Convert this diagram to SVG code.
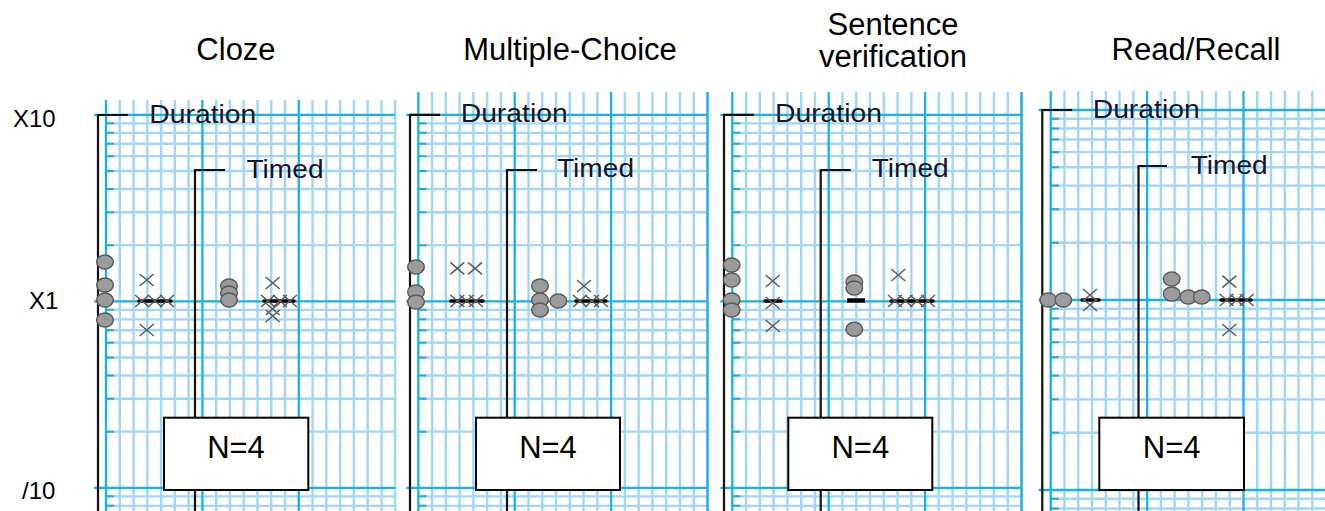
<svg xmlns="http://www.w3.org/2000/svg" width="1325" height="511" viewBox="0 0 1325 511">
<style>
.title{font-family:"Liberation Sans",Arial,sans-serif;font-size:31px;fill:#000;text-anchor:middle}
.row{font-family:"Liberation Sans",Arial,sans-serif;font-size:24px;fill:#000}
.lab{font-family:"Liberation Sans",Arial,sans-serif;font-size:25px;fill:#14142a}
.n{font-family:"Liberation Sans",Arial,sans-serif;font-size:31px;fill:#000;text-anchor:middle}
.minor{stroke:#a2d6f7;stroke-width:2.4;fill:none}
.major{stroke:#16b3e6;stroke-width:2.3;fill:none}
.tick{stroke:#1fabe2;stroke-width:2;fill:none}
.br{stroke:#111;stroke-width:2.2;fill:none}
.box{fill:#fff;stroke:#000;stroke-width:2}
.bar{stroke:#000;stroke-width:3.5;stroke-linecap:round}
</style>
<defs>
<g id="grid">
<path class="minor" d="M13.77,-209.3V210M27.54,-209.3V210M41.31,-209.3V210M55.09,-209.3V210M68.86,-209.3V210M82.63,-209.3V210M110.17,-209.3V210M123.94,-209.3V210M137.71,-209.3V210M151.49,-209.3V210M165.26,-209.3V210M179.03,-209.3V210M206.57,-209.3V210M220.34,-209.3V210M234.11,-209.3V210M247.89,-209.3V210M261.66,-209.3V210M275.43,-209.3V210M289.2,-209.3V210"/>
<path class="minor" d="M0,-177.97H289.2M0,-168.43H289.2M0,-157.61H289.2M0,-145.13H289.2M0,-130.36H289.2M0,-112.28H289.2M0,-88.98H289.2M0,-56.14H289.2M0,8.53H289.2M0,18.07H289.2M0,28.89H289.2M0,41.37H289.2M0,56.14H289.2M0,74.22H289.2M0,97.52H289.2M0,130.36H289.2M0,195.03H289.2M0,204.57H289.2"/>
<path class="tick" d="M0,-177.97H8M0,-168.43H8M0,-157.61H8M0,-145.13H8M0,-130.36H8M0,-112.28H8M0,-88.98H8M0,-56.14H8M0,8.53H8M0,18.07H8M0,28.89H8M0,41.37H8M0,56.14H8M0,74.22H8M0,97.52H8M0,130.36H8M0,195.03H8M0,204.57H8"/>
<path class="major" d="M0,-209.3V210M96.4,-209.3V210M192.8,-209.3V210M-12,-186.5H289.2M-12,0H289.2M-12,186.5H289.2"/>
</g>
<ellipse id="o" cx="0" cy="0" rx="8.3" ry="7" fill="#9b9b9b" stroke="#5a5a5a" stroke-width="1.5"/>
<path id="x" d="M-7,-6L7,6M-7,6L7,-6" stroke="#5e5e5e" stroke-width="1.6" fill="none"/>
</defs>
<rect width="1325" height="511" fill="#fff"/>

<g id="titles">
<text class="title" x="236" y="60">Cloze</text>
<text class="title" x="570" y="60">Multiple-Choice</text>
<text class="title" x="893" y="35">Sentence</text>
<text class="title" x="893" y="67">verification</text>
<text class="title" x="1196" y="60">Read/Recall</text>
</g>
<g id="rowlabels">
<text class="row" x="13" y="127">X10</text>
<text class="row" x="29" y="309">X1</text>
<text class="row" x="22" y="499">/10</text>
</g>

<g id="grids">
<use href="#grid" transform="translate(106,301.3)"/>
<rect x="90" y="86" width="315" height="14" fill="#fff"/>
<use href="#grid" transform="translate(418.3,301.3)"/>
<path class="major" d="M707.5,92V511"/>
<use href="#grid" transform="translate(732.3,301.3)"/>
<path class="major" d="M1021.5,92V511"/>
<use href="#grid" transform="translate(1050.7,300) scale(1,1.0188)"/>
<rect x="1030" y="80" width="295" height="11" fill="#fff"/>
</g>

<g id="connectors">
<path class="br" d="M128,115H98V511M225,170H195V511"/>
<path class="br" d="M440,114.8H410V511M537,170H507V511"/>
<path class="br" d="M754,114.8H724V511M850.7,170H820.7V511"/>
<path class="br" d="M1072,110H1042.3V511M1167,166H1138.5V511"/>
</g>

<g id="panel-cloze">
<text class="lab" x="149.3" y="123" textLength="107" lengthAdjust="spacingAndGlyphs">Duration</text>
<text class="lab" x="246.5" y="178" textLength="77" lengthAdjust="spacingAndGlyphs">Timed</text>
<use href="#o" x="105" y="262"/><use href="#o" x="105" y="285"/><use href="#o" x="105" y="300"/><use href="#o" x="105" y="320"/>
<use href="#x" x="146.7" y="280"/><use href="#x" x="146.7" y="330"/>
<line class="bar" x1="139" y1="301" x2="171" y2="301"/>
<use href="#x" x="142" y="301"/><use href="#x" x="155" y="301"/><use href="#x" x="167" y="301"/>
<use href="#o" x="229" y="286"/><use href="#o" x="229" y="293"/><use href="#o" x="229" y="300"/>
<use href="#x" x="272.7" y="283"/><use href="#x" x="272.7" y="316"/><use href="#x" x="272.7" y="309"/>
<line class="bar" x1="264" y1="301" x2="294" y2="301"/>
<use href="#x" x="268" y="301"/><use href="#x" x="280" y="301"/><use href="#x" x="290" y="301"/>
<rect class="box" x="164" y="417.7" width="144.3" height="72.3"/>
<text class="n" x="236" y="458">N=4</text>
</g>

<g id="panel-mc">
<text class="lab" x="460.7" y="122.3" textLength="107" lengthAdjust="spacingAndGlyphs">Duration</text>
<text class="lab" x="557" y="177" textLength="77" lengthAdjust="spacingAndGlyphs">Timed</text>
<use href="#o" x="416" y="267"/><use href="#o" x="416" y="292"/><use href="#o" x="416" y="302"/>
<use href="#x" x="457.3" y="268.3"/><use href="#x" x="475" y="268.3"/>
<line class="bar" x1="451" y1="301" x2="483" y2="301"/>
<use href="#x" x="457.3" y="301"/><use href="#x" x="466.7" y="301"/><use href="#x" x="476" y="301"/>
<use href="#o" x="540" y="286"/><use href="#o" x="540" y="300"/><use href="#o" x="540" y="310"/><use href="#o" x="558.3" y="301"/>
<use href="#x" x="584" y="286"/>
<line class="bar" x1="576" y1="301" x2="606" y2="301"/>
<use href="#x" x="580" y="301"/><use href="#x" x="592" y="301"/><use href="#x" x="601" y="301"/>
<rect class="box" x="476" y="417.7" width="144" height="72.3"/>
<text class="n" x="548" y="458">N=4</text>
</g>

<g id="panel-sv">
<text class="lab" x="775" y="122.3" textLength="107" lengthAdjust="spacingAndGlyphs">Duration</text>
<text class="lab" x="871.7" y="177" textLength="77" lengthAdjust="spacingAndGlyphs">Timed</text>
<use href="#o" x="731.7" y="265"/><use href="#o" x="731.7" y="280"/><use href="#o" x="731.7" y="300"/><use href="#o" x="731.7" y="310"/>
<use href="#x" x="772.7" y="281"/>
<line class="bar" x1="765" y1="301" x2="781" y2="301"/>
<use href="#x" x="772.7" y="303"/><use href="#x" x="772.7" y="326"/>
<use href="#o" x="854.3" y="282"/><use href="#o" x="854.3" y="288"/>
<line x1="847" y1="300.5" x2="865" y2="300.5" stroke="#000" stroke-width="4.5"/>
<use href="#o" x="854.3" y="329.3"/>
<use href="#x" x="898.3" y="275"/>
<line class="bar" x1="891" y1="301" x2="933" y2="301"/>
<use href="#x" x="895" y="301"/><use href="#x" x="905.5" y="301"/><use href="#x" x="917" y="301"/><use href="#x" x="928" y="301"/>
<rect class="box" x="788.3" y="417.7" width="144" height="72.3"/>
<text class="n" x="860.3" y="458">N=4</text>
</g>

<g id="panel-rr">
<text class="lab" x="1092.7" y="118" textLength="107" lengthAdjust="spacingAndGlyphs">Duration</text>
<text class="lab" x="1190.7" y="174" textLength="77" lengthAdjust="spacingAndGlyphs">Timed</text>
<use href="#o" x="1048.3" y="300"/><use href="#o" x="1063.3" y="300"/>
<line class="bar" x1="1082" y1="300" x2="1099" y2="300"/>
<use href="#x" x="1090" y="295"/><use href="#x" x="1090" y="305"/>
<use href="#o" x="1171.7" y="279"/><use href="#o" x="1171.7" y="294"/><use href="#o" x="1188.3" y="297"/><use href="#o" x="1201.7" y="297"/>
<use href="#x" x="1229.3" y="281.7"/><use href="#x" x="1229.3" y="330"/>
<line class="bar" x1="1221" y1="300" x2="1251" y2="300"/>
<use href="#x" x="1226.7" y="300"/><use href="#x" x="1236.7" y="300"/><use href="#x" x="1246.7" y="300"/>
<rect class="box" x="1099.3" y="417.7" width="144.7" height="72.3"/>
<text class="n" x="1171.7" y="458">N=4</text>
</g>
</svg>
